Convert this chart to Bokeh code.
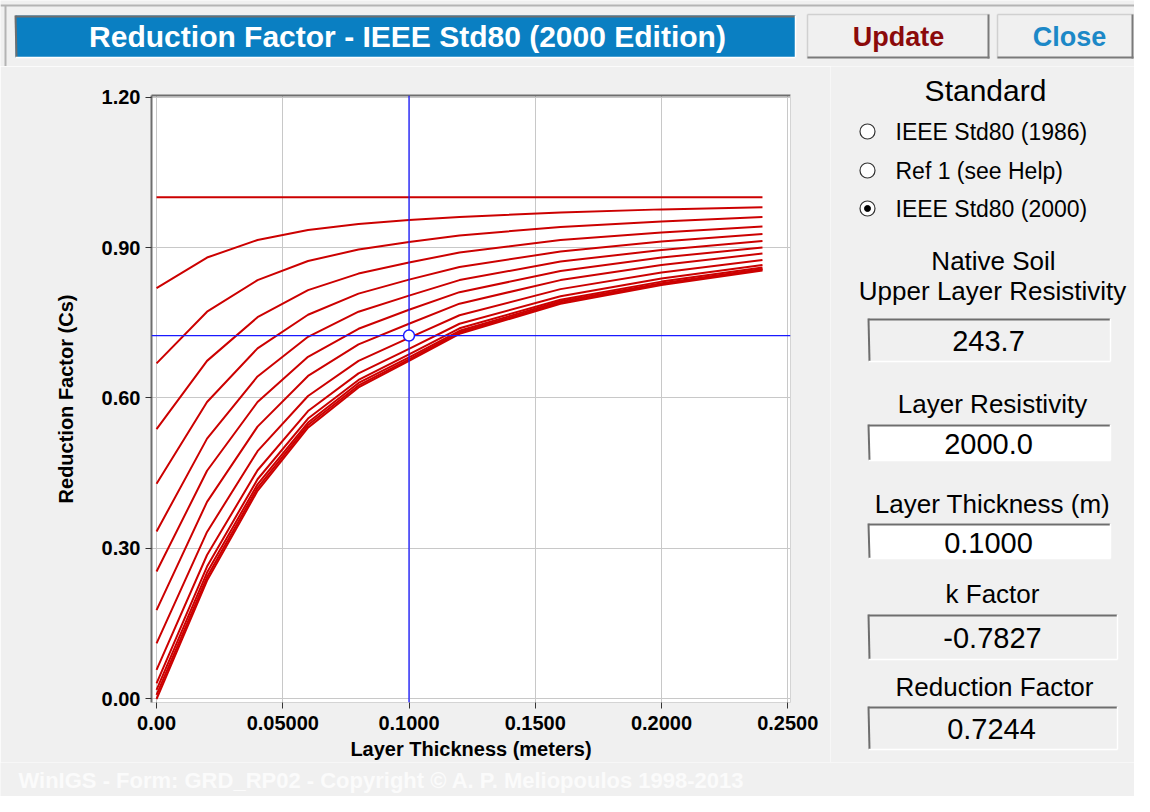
from bokeh.plotting import figure
from bokeh.layouts import column, row
from bokeh.models import Range1d, FixedTicker, LinearAxis, Span
from bokeh.core.properties import value
from bokeh.embed import file_html
from bokeh.resources import INLINE

# ---------------- data ----------------
thickness_m = [0.00, 0.02, 0.04, 0.06, 0.08, 0.10, 0.12, 0.16, 0.20, 0.24]

cs_k_000 = [1.000, 1.000, 1.000, 1.000, 1.000, 1.000, 1.000, 1.000, 1.000, 1.000]
cs_k_010 = [0.819, 0.880, 0.915, 0.935, 0.947, 0.955, 0.961, 0.970, 0.976, 0.980]
cs_k_020 = [0.669, 0.772, 0.835, 0.873, 0.896, 0.911, 0.924, 0.941, 0.952, 0.961]
cs_k_030 = [0.538, 0.674, 0.761, 0.815, 0.848, 0.870, 0.890, 0.915, 0.930, 0.942]
cs_k_040 = [0.429, 0.592, 0.699, 0.766, 0.808, 0.836, 0.861, 0.892, 0.912, 0.927]
cs_k_050 = [0.334, 0.519, 0.643, 0.722, 0.772, 0.804, 0.835, 0.872, 0.895, 0.913]
cs_k_060 = [0.254, 0.455, 0.592, 0.682, 0.738, 0.776, 0.811, 0.853, 0.880, 0.900]
cs_k_070 = [0.177, 0.393, 0.543, 0.644, 0.707, 0.748, 0.788, 0.835, 0.865, 0.888]
cs_k_080 = [0.111, 0.333, 0.494, 0.604, 0.674, 0.720, 0.765, 0.817, 0.850, 0.875]
cs_k_090 = [0.058, 0.287, 0.456, 0.574, 0.649, 0.698, 0.748, 0.803, 0.838, 0.865]
cs_k_094 = [0.031, 0.264, 0.438, 0.559, 0.636, 0.687, 0.739, 0.796, 0.832, 0.860]
cs_k_097 = [0.018, 0.252, 0.428, 0.551, 0.630, 0.681, 0.734, 0.793, 0.829, 0.857]
cs_k_099 = [0.008, 0.243, 0.421, 0.546, 0.625, 0.677, 0.731, 0.790, 0.827, 0.856]
cs_k_100 = [0.000, 0.236, 0.415, 0.541, 0.621, 0.674, 0.728, 0.788, 0.825, 0.854]

curves = [cs_k_000, cs_k_010, cs_k_020, cs_k_030, cs_k_040, cs_k_050, cs_k_060,
          cs_k_070, cs_k_080, cs_k_090, cs_k_094, cs_k_097, cs_k_099, cs_k_100]

current_thickness = 0.1000
current_cs = 0.7244

x_tick_values = [0.0, 0.05, 0.10, 0.15, 0.20, 0.25]
x_tick_labels = ["0.00", "0.05000", "0.1000", "0.1500", "0.2000", "0.2500"]
y_tick_values = [0.0, 0.3, 0.6, 0.9, 1.2]
y_tick_labels = ["0.00", "0.30", "0.60", "0.90", "1.20"]

window_title = "Reduction Factor - IEEE Std80 (2000 Edition)"
x_axis_title = "Layer Thickness (meters)"
y_axis_title = "Reduction Factor (Cs)"
standard_title = "Standard"
standard_options = ["IEEE Std80 (1986)", "Ref 1 (see Help)", "IEEE Std80 (2000)"]
selected_option = 2
native_soil_label = ["Native Soil", "Upper Layer Resistivity"]
native_soil_value = "243.7"
layer_res_label = "Layer Resistivity"
layer_res_value = "2000.0"
layer_thk_label = "Layer Thickness (m)"
layer_thk_value = "0.1000"
k_label = "k Factor"
k_value = "-0.7827"
rf_label = "Reduction Factor"
rf_value = "0.7244"
footer_text = "WinIGS - Form: GRD_RP02 - Copyright \u00a9 A. P. Meliopoulos 1998-2013"

# ---------------- styling helpers ----------------
FONT = "Liberation Sans"
BG = "#f0f0f0"


def page_fig(x0, x1, y0, y1):
    f = figure(width=x1 - x0, height=y1 - y0,
               x_range=Range1d(x0, x1), y_range=Range1d(y1, y0),
               x_axis_type=None, y_axis_type=None,
               output_backend="svg", toolbar_location=None, min_border=0,
               background_fill_color=BG, border_fill_color=BG,
               outline_line_color=None)
    return f


def txt(f, x, y, s, size, color="black", bold=False, align="center"):
    f.text(x=[x], y=[y], text=[s], text_font=value(FONT),
           text_font_size=f"{size}px", text_color=color,
           text_font_style="bold" if bold else "normal",
           text_align=align, text_baseline="middle")


def sunken(f, l, r, t, b, fill):
    f.quad(left=[l], right=[r], top=[t], bottom=[b], fill_color=fill, line_color=None)
    f.segment(x0=[l, l], y0=[t + 1, t], x1=[r, l + 1], y1=[t + 1, b],
              line_color="#6e6e6e", line_width=2)
    f.segment(x0=[l, r], y0=[b, t], x1=[r, r], y1=[b, b],
              line_color="#ffffff", line_width=1.5)


def raised(f, l, r, t, b, fill):
    f.quad(left=[l], right=[r], top=[t], bottom=[b], fill_color=fill, line_color=None)
    f.segment(x0=[l, l], y0=[t, t], x1=[r, l], y1=[t, b],
              line_color="#d0d0d0", line_width=1.5)
    f.segment(x0=[l, r - 1], y0=[b - 1, t], x1=[r, r - 1], y1=[b - 1, b],
              line_color="#7a7a7a", line_width=2)


# ---------------- top strip: title bar and buttons ----------------
top = page_fig(0, 1134, 0, 66)
top.segment(x0=[0, 5], y0=[5, 5], x1=[1134, 5], y1=[5, 66], line_color="#b4b4b4", line_width=2)
sunken(top, 15, 795, 15, 57, "#0a7fc2")
txt(top, 407, 36, window_title, 30, color="white", bold=True)
raised(top, 807, 989, 14, 58, BG)
txt(top, 898, 36, "Update", 27, color="#8b0a0a", bold=True)
raised(top, 997, 1133, 14, 58, BG)
txt(top, 1069, 36, "Close", 27, color="#1c88c7", bold=True)

# ---------------- chart ----------------
p = figure(width=830, height=696,
           x_range=Range1d(-0.002, 0.2511), y_range=Range1d(-0.007, 1.203),
           output_backend="svg", toolbar_location=None,
           min_border_left=151, min_border_right=40,
           min_border_top=29, min_border_bottom=60,
           background_fill_color="white", border_fill_color=BG,
           outline_line_color=None)

xt = FixedTicker(ticks=x_tick_values)
yt = FixedTicker(ticks=y_tick_values)
p.xaxis.ticker = xt
p.yaxis.ticker = yt
p.xgrid.ticker = xt
p.ygrid.ticker = yt
p.xaxis.major_label_overrides = {v: s for v, s in zip(x_tick_values, x_tick_labels)}
p.yaxis.major_label_overrides = {v: s for v, s in zip(y_tick_values, y_tick_labels)}
p.grid.grid_line_color = "#c8c8c8"
p.grid.grid_line_width = 1

for ax in (p.xaxis[0], p.yaxis[0]):
    ax.major_label_text_font = FONT
    ax.major_label_text_font_style = "bold"
    ax.major_label_text_font_size = "20px"
    ax.major_label_text_color = "black"
    ax.axis_label_text_font = FONT
    ax.axis_label_text_font_style = "bold"
    ax.axis_label_text_font_size = "20px"
    ax.axis_label_text_color = "black"
    ax.major_tick_in = 0
    ax.major_tick_out = 6
    ax.major_tick_line_color = "#333333"
    ax.minor_tick_line_color = None

p.xaxis.axis_label = x_axis_title
p.yaxis.axis_label = y_axis_title
p.xaxis.axis_line_color = "#d4d4d4"
p.yaxis.axis_line_color = "#6e6e6e"
p.yaxis.axis_line_width = 2
p.xaxis.major_label_standoff = 7
p.yaxis.major_label_standoff = 5
p.xaxis.axis_label_standoff = 5
p.yaxis.axis_label_standoff = 22

top_ax = LinearAxis(ticker=FixedTicker(ticks=[]), axis_line_color="#6e6e6e",
                    axis_line_width=2, major_tick_line_color=None,
                    minor_tick_line_color=None, major_label_text_font_size="0px")
p.add_layout(top_ax, "above")
right_ax = LinearAxis(ticker=FixedTicker(ticks=[]), axis_line_color="#d4d4d4",
                      axis_line_width=1, major_tick_line_color=None,
                      minor_tick_line_color=None, major_label_text_font_size="0px")
p.add_layout(right_ax, "right")

for series in curves:
    p.line(thickness_m, series, line_color="#cc0000", line_width=2)

p.add_layout(Span(location=current_thickness, dimension="height",
                  line_color="#1a1aff", line_width=1.3))
p.add_layout(Span(location=current_cs, dimension="width",
                  line_color="#1a1aff", line_width=1.3))
marker = p.scatter([current_thickness], [current_cs], size=11, fill_color="white",
                   line_color="#1a1aff", line_width=1.5)
marker.level = "overlay"

# ---------------- right panel ----------------
panel = page_fig(830, 1134, 66, 762)
txt(panel, 985, 90, standard_title, 30)
radio_y = [131, 170, 208]
for i, (lab, yy) in enumerate(zip(standard_options, radio_y)):
    panel.scatter([867], [yy], size=15, fill_color="white", line_color="#333333", line_width=1.2)
    if i == selected_option:
        panel.scatter([867], [yy], size=6, fill_color="black", line_color="black")
    txt(panel, 895, yy, lab, 23, align="left")

txt(panel, 993, 260, native_soil_label[0], 26)
txt(panel, 992, 290, native_soil_label[1], 26)
sunken(panel, 868, 1110, 318, 361, BG)
txt(panel, 988, 340, native_soil_value, 29)

txt(panel, 992, 403, layer_res_label, 26)
sunken(panel, 868, 1110, 424, 460, "white")
txt(panel, 988, 443, layer_res_value, 29)

txt(panel, 992, 503, layer_thk_label, 26)
sunken(panel, 868, 1110, 523, 558, "white")
txt(panel, 988, 542, layer_thk_value, 29)

txt(panel, 992, 593, k_label, 26)
sunken(panel, 868, 1117, 614, 659, BG)
txt(panel, 992, 637, k_value, 29)

txt(panel, 994, 686, rf_label, 26)
sunken(panel, 868, 1117, 706, 749, BG)
txt(panel, 991, 728, rf_value, 29)

# ---------------- footer ----------------
foot = page_fig(0, 1134, 762, 796)
txt(foot, 18, 780, footer_text, 22, color="#fbfbfb", bold=True, align="left")

layout = column(top, row(p, column(panel)), foot)
open("out.html", "w").write(file_html(layout, INLINE))
